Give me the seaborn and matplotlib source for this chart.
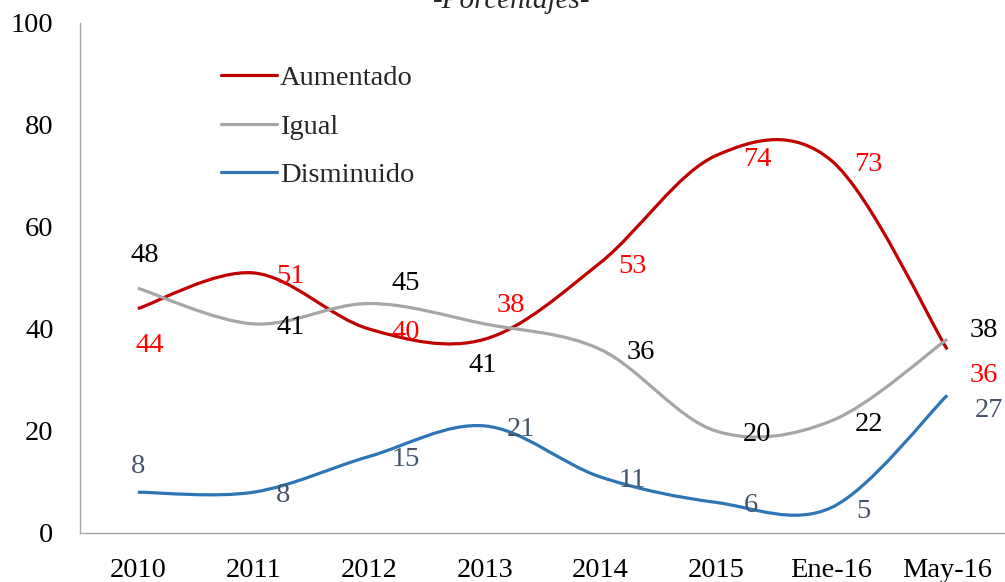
import numpy as np
import matplotlib
matplotlib.use("Agg")
import matplotlib.pyplot as plt
from matplotlib.path import Path
from matplotlib.patches import PathPatch
from matplotlib.lines import Line2D
import seaborn as sns

periodos = ['2010', '2011', '2012', '2013', '2014', '2015', 'Ene-16', 'May-16']
aumentado = [44, 51, 40, 38, 53, 74, 73, 36]
igual = [48, 41, 45, 41, 36, 20, 22, 38]
disminuido = [8, 8, 15, 21, 11, 6, 5, 27]

series = [
    ('Aumentado', aumentado, '#C00000', '#FF0000'),
    ('Igual', igual, '#A6A6A6', '#000000'),
    ('Disminuido', disminuido, '#2E75B6', '#44546A'),
]

# label offsets in pixels (dx, dy up), picked by eye
offsets = {
    'Aumentado': [(12, -33), (37, 0), (37, 0), (26, 37), (32, 0), (41, 0), (37, 0), (37, -23)],
    'Igual': [(7, 36), (37, 0), (37, 23), (-2, -38), (40, 0), (41, 0), (37, 0), (37, 12)],
    'Disminuido': [(0, 29), (30, 0), (37, 0), (36, 0), (32, 0), (35, 0), (32, 0), (42, -12)],
}


def smooth_path(x, y):
    # excel style smoothed line: cubic bezier through every point
    pts = np.column_stack([x, y]).astype(float)
    ext = np.vstack([pts[0], pts, pts[-1]])
    verts = [pts[0]]
    codes = [Path.MOVETO]
    for i in range(len(pts) - 1):
        p0, p1, p2, p3 = ext[i], ext[i + 1], ext[i + 2], ext[i + 3]
        verts += [p1 + (p2 - p0) / 6, p2 - (p3 - p1) / 6, p2]
        codes += [Path.CURVE4] * 3
    return Path(verts, codes)


sns.set_theme(style="white")
plt.rcParams['font.family'] = ['Liberation Serif', 'DejaVu Serif']

fig = plt.figure(figsize=(10.05, 5.82), dpi=100)
ax = fig.add_axes([80 / 1005, 49 / 582, 925 / 1005, 510 / 582])

x = np.arange(len(periodos))
handles = []
for name, vals, col, lcol in series:
    ax.add_patch(PathPatch(smooth_path(x, vals), facecolor='none', edgecolor=col,
                           lw=2.3, capstyle='butt'))
    for xi, v, (dx, dy) in zip(x, vals, offsets[name]):
        ax.annotate(str(v), (xi, v), xytext=(dx, dy - 10), textcoords='offset pixels',
                    ha='center', va='baseline', fontsize=20.5, color=lcol)
    handles.append(Line2D([], [], color=col, lw=2.3, label=name))

ax.set_xlim(-0.5, len(periodos) - 0.5)
ax.set_ylim(0, 100)
ax.set_yticks(range(0, 101, 20))
ax.set_xticks(x)
ax.set_xticklabels(periodos)
ax.tick_params(axis='both', length=0, labelsize=20.5, colors='black')
ax.tick_params(axis='y', pad=19)
ax.tick_params(axis='x', pad=18)
sns.despine(ax=ax, top=True, right=True)
for s in ['left', 'bottom']:
    ax.spines[s].set_color('#A6A6A6')
    ax.spines[s].set_linewidth(1.0)

ax.legend(handles=handles, loc='upper left', bbox_to_anchor=(221 / 1005, 1 - 65 / 582),
          bbox_transform=fig.transFigure, frameon=False, fontsize=20.5,
          handlelength=1.95, handletextpad=0.12, labelspacing=0.8,
          borderpad=0, borderaxespad=0)

fig.text(512 / 1005, 1 - 8 / 582, '-Porcentajes-', ha='center', va='baseline',
         fontsize=21, style='italic')

fig.savefig('out.png', dpi=100)
